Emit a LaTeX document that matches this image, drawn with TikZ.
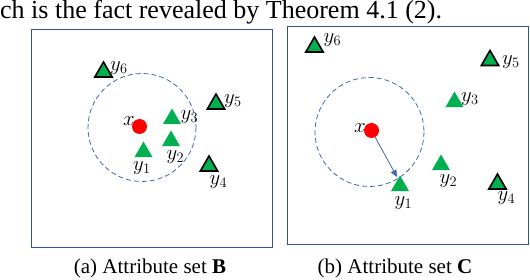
\documentclass[tikz,border=0pt]{standalone}
\usepackage{fontspec}
\setmainfont{Liberation Serif}
\usetikzlibrary{positioning,arrows.meta,shapes.geometric}
\definecolor{FrameBlue}{RGB}{47,85,151}
\definecolor{RingBlue}{RGB}{68,102,170}
\definecolor{PointGreen}{RGB}{0,176,80}
\definecolor{QueryRed}{RGB}{255,0,0}

\begin{document}
\begin{tikzpicture}[x=1pt, y=-1pt,
  panel/.style={draw=FrameBlue, line width=1pt},
  ring/.style={draw=RingBlue, dashed, dash pattern=on 5pt off 3pt, line width=0.8pt},
  query/.style={circle, fill=QueryRed, inner sep=0pt, minimum size=15pt},
  inpt/.style={regular polygon, regular polygon sides=3, fill=PointGreen, inner sep=0pt, minimum size=21pt},
  outpt/.style={inpt, draw=black, line width=1.6pt, minimum size=20pt},
  lbl/.style={anchor=west, inner sep=0pt, font=\fontsize{20.5}{22}\selectfont},
  caption/.style={font=\fontsize{21}{24}\selectfont}]
  \useasboundingbox (0,0) rectangle (530,280);
  \node[anchor=base west, inner sep=0pt, font=\fontsize{26}{30}\selectfont] (fact) at (0,19) {ch is the fact revealed by Theorem 4.1 (2).};

  % (a) attribute set B
  \draw[panel] (31,30) rectangle (272,248);
  \draw[ring] (142,127.5) circle (54);
  \node[query] (xa) at (139.5,126.5) {};
  \node[lbl] (xalbl) at (123,121) {$x$};
  \node[inpt] (ya1) at (143.5,152) {};
  \node[inpt] (ya2) at (171,141) {};
  \node[inpt] (ya3) at (172,119) {};
  \node[outpt] (ya4) at (209,166) {};
  \node[outpt] (ya5) at (216,104) {};
  \node[outpt] (ya6) at (103.5,72) {};
  \node[lbl] (ya1lbl) at (133,168) {$y_1$};
  \node[lbl] (ya2lbl) at (166.5,157) {$y_2$};
  \node[lbl] (ya3lbl) at (180.5,117) {$y_3$};
  \node[lbl] (ya4lbl) at (209.5,182) {$y_4$};
  \node[lbl] (ya5lbl) at (224,101) {$y_5$};
  \node[lbl] (ya6lbl) at (110,68) {$y_6$};
  \node[caption] (capa) at (150,268) {(a) Attribute set \textbf{B}};

  % (b) attribute set C
  \draw[panel] (287,27) rectangle (528,245);
  \draw[ring] (369.5,132) circle (54.5);
  \node[query] (xb) at (371.5,130.5) {};
  \node[lbl] (xblbl) at (354,128) {$x$};
  \node[inpt] (yb1) at (400,186) {};
  \node[inpt] (yb2) at (441,165) {};
  \node[inpt] (yb3) at (454.5,102) {};
  \node[outpt] (yb4) at (497.5,184) {};
  \node[outpt] (yb5) at (490,60.5) {};
  \node[outpt] (yb6) at (314.5,47) {};
  \coordinate (reach) at (397,177);
  \draw[-{Triangle[length=7pt,width=6pt]}, RingBlue, line width=0.8pt] (xb) -- (reach);
  \node[lbl] (yb1lbl) at (394.5,203) {$y_1$};
  \node[lbl] (yb2lbl) at (439.5,181) {$y_2$};
  \node[lbl] (yb3lbl) at (461,99) {$y_3$};
  \node[lbl] (yb4lbl) at (497.5,198) {$y_4$};
  \node[lbl] (yb5lbl) at (502,62) {$y_5$};
  \node[lbl] (yb6lbl) at (323.5,40) {$y_6$};
  \node[caption] (capb) at (395,268) {(b) Attribute set \textbf{C}};
\end{tikzpicture}
\end{document}
